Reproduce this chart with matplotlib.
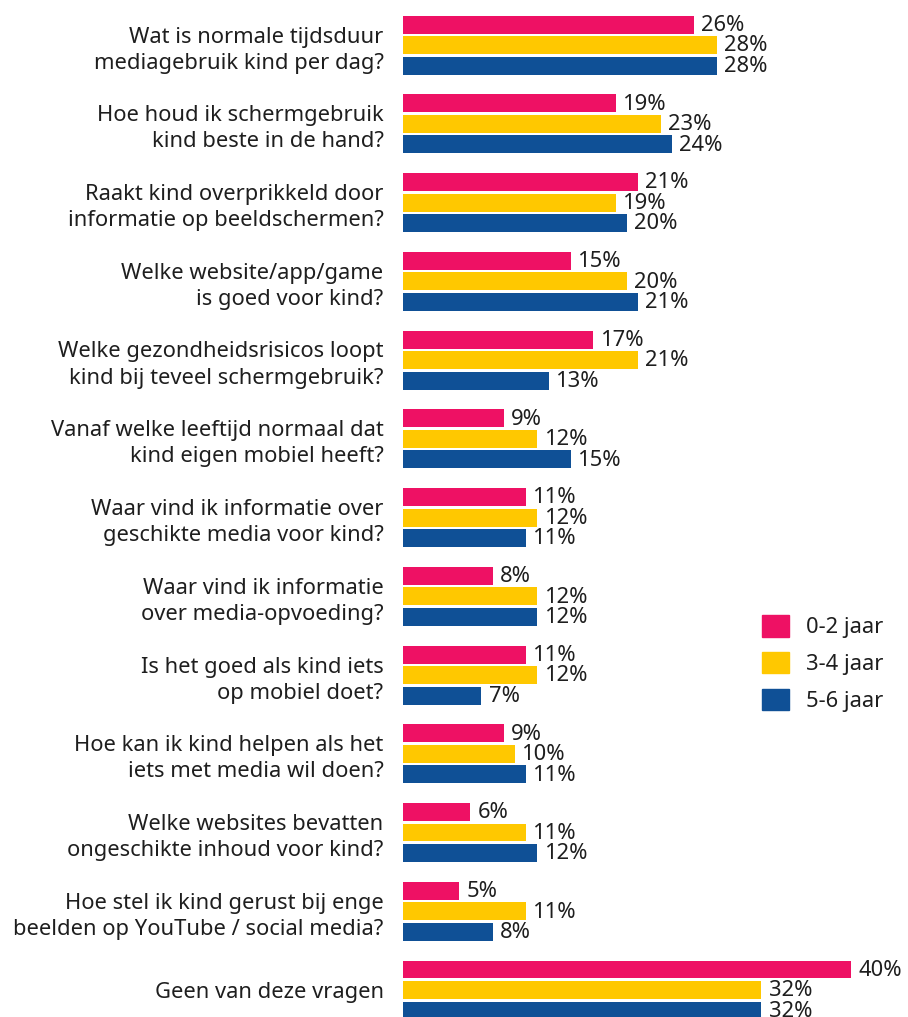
import numpy as np
import matplotlib
matplotlib.use('Agg')
import matplotlib.pyplot as plt
from matplotlib.patches import Patch

plt.rcParams['font.family'] = ['Noto Sans', 'DejaVu Sans']

questions = [
    'Wat is normale tijdsduur\nmediagebruik kind per dag?',
    'Hoe houd ik schermgebruik\nkind beste in de hand?',
    'Raakt kind overprikkeld door\ninformatie op beeldschermen?',
    'Welke website/app/game\nis goed voor kind?',
    'Welke gezondheidsrisicos loopt\nkind bij teveel schermgebruik?',
    'Vanaf welke leeftijd normaal dat\nkind eigen mobiel heeft?',
    'Waar vind ik informatie over\ngeschikte media voor kind?',
    'Waar vind ik informatie\nover media-opvoeding?',
    'Is het goed als kind iets\nop mobiel doet?',
    'Hoe kan ik kind helpen als het\niets met media wil doen?',
    'Welke websites bevatten\nongeschikte inhoud voor kind?',
    'Hoe stel ik kind gerust bij enge\nbeelden op YouTube / social media?',
    'Geen van deze vragen',
]
age_0_2 = [26, 19, 21, 15, 17, 9, 11, 8, 11, 9, 6, 5, 40]
age_3_4 = [28, 23, 19, 20, 21, 12, 12, 12, 12, 10, 11, 11, 32]
age_5_6 = [28, 24, 20, 21, 13, 15, 11, 12, 7, 11, 12, 8, 32]
series_names = ['0-2 jaar', '3-4 jaar', '5-6 jaar']
colors = ['#EE1164', '#FFC800', '#0F5096']
txt = '#1e1e1e'

W, H = 908, 1017
fig = plt.figure(figsize=(W / 100, H / 100), dpi=100)
x0 = 403
ax = fig.add_axes([x0 / W, 0, (W - x0) / W, 1])

step = 78.75  # px between groups
y = np.arange(len(questions))
off = 20.5 / step
bh = 18 / step
fs = 15.8

for k, (vals, c) in enumerate(zip([age_0_2, age_3_4, age_5_6], colors)):
    pos = y + (k - 1) * off
    ax.barh(pos, vals, height=bh, color=c)
    for p, v in zip(pos, vals):
        ax.text(v + 0.65, p + 0.01, f'{v}%', va='center', ha='left',
                fontsize=fs, color=txt)

top = 45 / step
ax.set_ylim(H / step - top, -top)
ax.set_xlim(0, (W - x0) / 11.2)

ax.set_yticks(y)
ax.set_yticklabels(questions, fontsize=fs, color=txt, linespacing=1.32)
ax.tick_params(axis='y', length=0, pad=14)
ax.set_xticks([])
for s in ax.spines.values():
    s.set_visible(False)

handles = [Patch(color=c, label=n) for c, n in zip(colors, series_names)]
leg = fig.legend(handles=handles, loc='upper left',
                 bbox_to_anchor=(742 / W, 1 - 595 / H), frameon=False,
                 handlelength=1.25, handleheight=1.15,
                 labelspacing=0.62, handletextpad=0.75,
                 prop={'size': fs})
for t in leg.get_texts():
    t.set_color(txt)

fig.savefig('out.png', dpi=100)
